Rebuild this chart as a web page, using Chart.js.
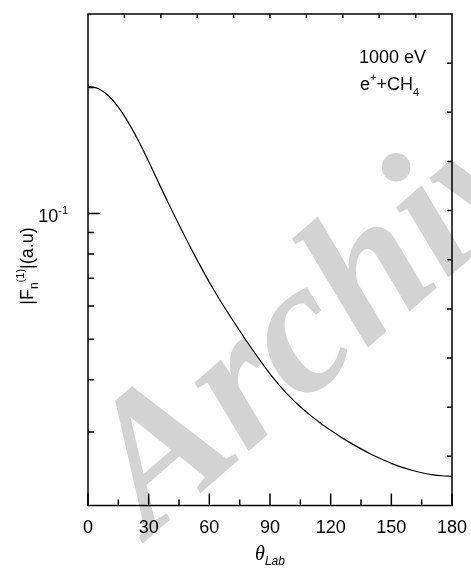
<!DOCTYPE html>
<html>
<head>
<meta charset="utf-8">
<script src="https://cdn.jsdelivr.net/npm/chart.js@4.4.0/dist/chart.umd.min.js"></script>
<style>
  html, body { margin: 0; padding: 0; background: #fff; }
  #wrap { width: 471px; height: 569px; }
</style>
</head>
<body>
<div id="wrap"><canvas id="chart" width="471" height="569"></canvas></div>
<script>
// Scattering angle (deg) and |F_n^(1)| amplitude (a.u.)
const angles = [0, 5, 10, 15, 20, 25, 30, 35, 40, 45, 50, 55, 60, 65, 70, 75, 80, 85, 90,
  95, 100, 105, 110, 115, 120, 125, 130, 135, 140, 145, 150, 155, 160, 165, 170, 175, 180];
const amplitude = [0.20148, 0.19894, 0.19141, 0.17965, 0.16493, 0.14894, 0.13302, 0.11815,
  0.10523, 0.09398, 0.08417, 0.07571, 0.06845, 0.06232, 0.05706, 0.05239, 0.04823,
  0.04455, 0.04131, 0.03862, 0.03633, 0.03445, 0.03286, 0.03147, 0.03027, 0.02918,
  0.02820, 0.02732, 0.02653, 0.02585, 0.02523, 0.02471, 0.02429, 0.02396, 0.02372,
  0.02356, 0.02348];

// Axis ticks
const xTicks = [0, 30, 60, 90, 120, 150, 180];
const xMinorTicks = [15, 45, 75, 105, 135, 165];
const topTicks = [18, 36, 54, 72, 90, 108, 126, 144, 162];
const yMajorTicks = [0.1];
const yMinorTicks = [0.03, 0.04, 0.05, 0.06, 0.07, 0.08, 0.09, 0.2];
const rightTicks = [1, 2, 3, 4, 5, 6, 7, 8, 9];

const SANS = '"Liberation Sans", Arial, sans-serif';

// faint watermark behind the plot
const watermark = {
  id: 'watermark',
  beforeDraw(chart) {
    const ctx = chart.ctx;
    ctx.save();
    ctx.fillStyle = '#d3d3d3';
    ctx.font = 'italic bold 190px "Liberation Serif", serif';
    ctx.translate(150, 537);
    ctx.rotate(-41 * Math.PI / 180);
    ctx.textBaseline = 'alphabetic';
    ctx.fillText('Archive', 0, 0);
    ctx.restore();
  }
};

// draw a run of text pieces: [text, fontSize, dy, italic, family]
function drawRun(ctx, x, y, pieces) {
  let cx = x;
  pieces.forEach(p => {
    ctx.font = (p[3] ? 'italic ' : '') + p[1] + 'px ' + (p[4] || SANS);
    ctx.fillText(p[0], cx, y + p[2]);
    cx += ctx.measureText(p[0]).width;
  });
  return cx - x;
}

function runWidth(ctx, pieces) {
  let w = 0;
  pieces.forEach(p => {
    ctx.font = (p[3] ? 'italic ' : '') + p[1] + 'px ' + (p[4] || SANS);
    w += ctx.measureText(p[0]).width;
  });
  return w;
}

const frame = {
  id: 'frame',
  afterDraw(chart) {
    const ctx = chart.ctx;
    const a = chart.chartArea;
    const xs = chart.scales.x, ys = chart.scales.y, yr = chart.scales.yr;
    ctx.save();
    ctx.strokeStyle = '#000';
    ctx.fillStyle = '#000';
    ctx.lineWidth = 1.5;
    ctx.strokeRect(a.left, a.top, a.right - a.left, a.bottom - a.top);

    ctx.beginPath();
    const tick = (x1, y1, x2, y2) => { ctx.moveTo(x1, y1); ctx.lineTo(x2, y2); };
    xTicks.forEach(v => { const px = xs.getPixelForValue(v); tick(px, a.bottom, px, a.bottom - 12); });
    xMinorTicks.forEach(v => { const px = xs.getPixelForValue(v); tick(px, a.bottom, px, a.bottom - 6); });
    topTicks.forEach(v => { const px = xs.getPixelForValue(v); tick(px, a.top, px, a.top + 4); });
    yMajorTicks.forEach(v => { const py = ys.getPixelForValue(v); tick(a.left, py, a.left + 12, py); });
    yMinorTicks.forEach(v => { const py = ys.getPixelForValue(v); tick(a.left, py, a.left + 6, py); });
    rightTicks.forEach(v => { const py = yr.getPixelForValue(v); tick(a.right, py, a.right - 5, py); });
    ctx.stroke();

    // y tick label 10^-1
    ctx.textBaseline = 'alphabetic';
    ctx.textAlign = 'left';
    yMajorTicks.forEach(v => {
      const py = ys.getPixelForValue(v);
      const pieces = [['10', 18, 0], ['-1', 11, -8]];
      const w = runWidth(ctx, pieces);
      drawRun(ctx, 68 - w, py + 9, pieces);
    });

    // x axis title
    const tpieces = [['\u03b8', 20, 0, true, '"Liberation Serif", serif'], ['Lab', 12, 5, true]];
    const tw = runWidth(ctx, tpieces);
    drawRun(ctx, (a.left + a.right) / 2 - tw / 2, 560, tpieces);

    // y axis title
    ctx.save();
    ctx.translate(33, 266);
    ctx.rotate(-Math.PI / 2);
    const ypieces = [['|F', 18, 0], ['n', 12, 5], ['(1)', 11, -9], ['|(a.u)', 18, 0]];
    const yw = runWidth(ctx, ypieces);
    drawRun(ctx, -yw / 2, 0, ypieces);
    ctx.restore();

    // labels in the plot corner
    drawRun(ctx, 359, 63, [['1000 eV', 18, 0]]);
    drawRun(ctx, 360, 90, [['e', 18, 0], ['+', 11, -9], ['+CH', 18, 0], ['4', 11, 6]]);
    ctx.restore();
  }
};

new Chart(document.getElementById('chart'), {
  type: 'line',
  data: {
    datasets: [{
      data: angles.map((a, i) => ({ x: a, y: amplitude[i] })),
      borderColor: '#000',
      borderWidth: 1.2,
      pointRadius: 0,
      cubicInterpolationMode: 'monotone',
      fill: false
    }]
  },
  options: {
    responsive: false,
    animation: false,
    devicePixelRatio: 1,
    layout: { padding: { top: 14, right: 19, left: 0, bottom: 0 } },
    plugins: { legend: { display: false }, tooltip: { enabled: false } },
    scales: {
      x: {
        type: 'linear', min: 0, max: 180, position: 'bottom',
        grid: { display: false, drawTicks: false },
        border: { display: false },
        afterBuildTicks: s => { s.ticks = xTicks.map(v => ({ value: v })); },
        ticks: { color: '#000', font: { family: SANS, size: 18 }, padding: 12, maxRotation: 0 },
        afterFit: s => { s.height = 63.5; s.paddingLeft = 0; s.paddingRight = 0; }
      },
      y: {
        type: 'logarithmic', min: 0.02, max: 0.3, position: 'left',
        grid: { display: false, drawTicks: false },
        border: { display: false },
        ticks: { display: false },
        afterFit: s => { s.width = 88; }
      },
      yr: {
        type: 'linear', min: 0, max: 10, position: 'right', display: false
      }
    }
  },
  plugins: [watermark, frame]
});
</script>
</body>
</html>
